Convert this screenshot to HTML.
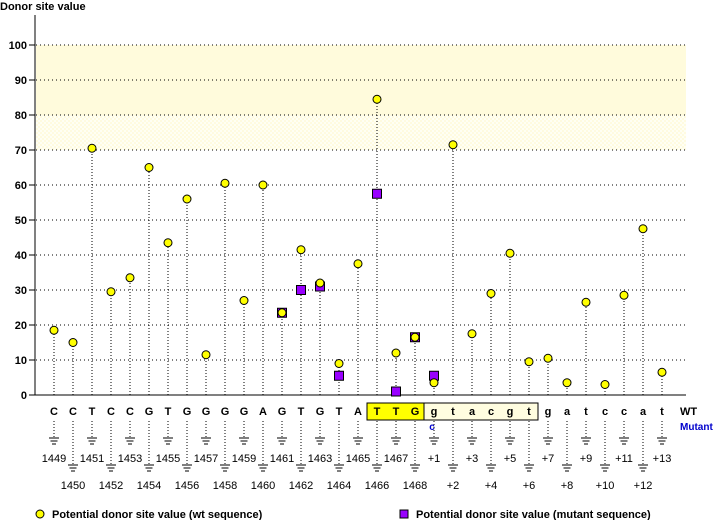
<!DOCTYPE html>
<html><head><meta charset="utf-8"><style>
html,body{margin:0;padding:0;background:#fff;width:720px;height:520px;overflow:hidden}
svg text{font-family:"Liberation Sans",sans-serif}
</style></head><body>
<svg id="s" width="720" height="520" xmlns="http://www.w3.org/2000/svg">
<defs>
<pattern id="h" width="4" height="4" patternUnits="userSpaceOnUse">
<rect width="4" height="4" fill="#fffff4"/><rect width="2" height="2" fill="#fffbe0"/><rect x="2" y="2" width="2" height="2" fill="#fffbe0"/>
</pattern>
</defs>
<rect x="36" y="45" width="650" height="70" fill="#fffbdc"/>
<rect x="36" y="115" width="650" height="35" fill="url(#h)"/>
<text x="0" y="10" font-size="11" font-weight="bold">Donor site value</text>
<g id="g"></g>
</svg>
<script>
var g=document.getElementById('g'),o='',top2='';
function Y(v){return 395-v*3.5;}
for(var k=1;k<=10;k++){var y=Y(k*10);o+='<line x1="36" y1="'+y+'" x2="686" y2="'+y+'" stroke="#000" stroke-dasharray="1,3"/>';
o+='<line x1="29" y1="'+y+'" x2="35" y2="'+y+'" stroke="#000"/><text x="27" y="'+(y+4)+'" font-size="11" font-weight="bold" text-anchor="end">'+(k*10)+'</text>';}
o+='<text x="27" y="399" font-size="11" font-weight="bold" text-anchor="end">0</text><line x1="29" y1="395" x2="686" y2="395" stroke="#000"/><line x1="35" y1="15" x2="35" y2="395" stroke="#000"/>';
var seq="CCTCCGTGGGGAGTGTATTGgtacgtgatccat";
var wt=[18.5,15,70.5,29.5,33.5,65,43.5,56,11.5,60.5,27,60,23.5,41.5,32,9,37.5,84.5,12,16.5,3.5,71.5,17.5,29,40.5,9.5,10.5,3.5,26.5,3,28.5,47.5,6.5];
var mu={12:23.5,13:30,14:31,15:5.5,17:57.5,18:1,19:16.5,20:5.5};
o+='<rect x="367" y="403" width="57" height="17" fill="#ffff00" stroke="#000"/><rect x="424" y="403" width="114" height="17" fill="#fffde0" stroke="#000"/>';
for(var i=0;i<33;i++){var x=54+i*19;
o+='<line x1="'+x+'" y1="395" x2="'+x+'" y2="'+Y(wt[i])+'" stroke="#000" stroke-dasharray="1,2"/>';
o+='<text x="'+x+'" y="415" font-size="11" font-weight="bold" text-anchor="middle">'+seq[i]+'</text>';
var odd=(i%2==0),ly=odd?438:465;
o+='<line x1="'+x+'" y1="421" x2="'+x+'" y2="'+ly+'" stroke="#000" stroke-dasharray="1,2"/>';
o+='<line x1="'+(x-5)+'" y1="'+ly+'" x2="'+(x+5)+'" y2="'+ly+'" stroke="#000"/><line x1="'+(x-3.5)+'" y1="'+(ly+3)+'" x2="'+(x+3.5)+'" y2="'+(ly+3)+'" stroke="#000"/><line x1="'+(x-2)+'" y1="'+(ly+6)+'" x2="'+(x+2)+'" y2="'+(ly+6)+'" stroke="#000"/>';
var lab=i<20?String(1449+i):'+'+(i-19);
o+='<text x="'+x+'" y="'+(odd?462:489)+'" font-size="11" text-anchor="middle">'+lab+'</text>';
if(mu[i]!==undefined)o+='<rect x="'+(x-4.5)+'" y="'+(Y(mu[i])-4.5)+'" width="9" height="9" fill="#9900ff" stroke="#000"/>';
top2+='<circle cx="'+x+'" cy="'+Y(wt[i])+'" r="4" fill="#ffff00" stroke="#000"/>';
}
o+=top2;
o+='<text x="432" y="430" font-size="10" font-weight="bold" fill="#0000cc" text-anchor="middle">c</text>';
o+='<text x="680" y="415" font-size="11" font-weight="bold">WT</text><text x="680" y="430" font-size="10" font-weight="bold" fill="#0000cc">Mutant</text>';
o+='<circle cx="40" cy="514" r="4" fill="#ffff00" stroke="#000"/><text x="52" y="518" font-size="11" font-weight="bold">Potential donor site value (wt sequence)</text>';
o+='<rect x="400" y="510" width="8" height="8" fill="#9900ff" stroke="#000"/><text x="416" y="518" font-size="11" font-weight="bold">Potential donor site value (mutant sequence)</text>';
g.innerHTML=o;
</script>
</body></html>
